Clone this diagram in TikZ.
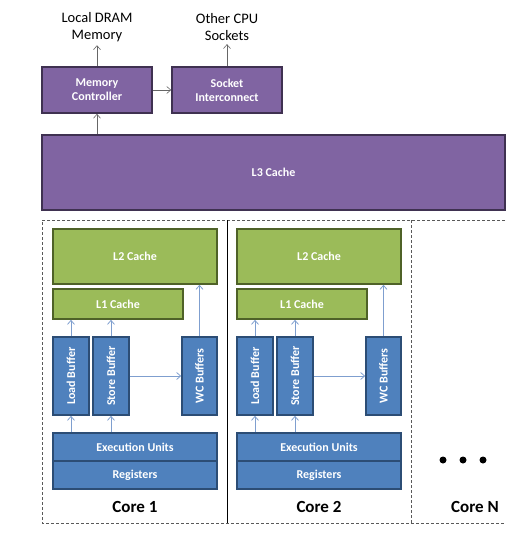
\documentclass[tikz,border=0pt]{standalone}
\usepackage{fontspec}
\setmainfont{Carlito}
\setsansfont{Carlito}
\usetikzlibrary{arrows.meta}

\definecolor{purplefill}{HTML}{8064A2}
\definecolor{purpleline}{HTML}{3F3151}
\definecolor{greenfill}{HTML}{9BBB59}
\definecolor{greenline}{HTML}{4F6228}
\definecolor{bluefill}{HTML}{4F81BD}
\definecolor{blueline}{HTML}{2C4D75}
\definecolor{bluearrow}{HTML}{7F9FCF}

\tikzset{
  unit/.style={draw, line width=1.6pt, text=white, font=\fontsize{12}{14}\selectfont\bfseries,
    inner sep=0pt, align=center},
  purpleunit/.style={unit, fill=purplefill, draw=purpleline},
  greenunit/.style={unit, fill=greenfill, draw=greenline},
  blueunit/.style={unit, fill=bluefill, draw=blueline},
  grayarrow/.style={->, gray!80!black, line width=0.6pt},
  bluearr/.style={->, bluearrow, line width=0.8pt},
  toplabel/.style={align=center, font=\fontsize{14.5}{17}\selectfont},
  corelabel/.style={font=\fontsize{17}{20}\selectfont\bfseries},
}

\begin{document}
\begin{tikzpicture}[x=1pt,y=-1pt,>={Straight Barb[length=4pt,width=7pt]}]
        \useasboundingbox (0,0) rectangle (520,537);

        % memory side
        \node[toplabel] (dram) at (97,27) {Local DRAM\\Memory};
        \node[toplabel] (cpus) at (227,27) {Other CPU\\Sockets};
        \node[purpleunit,minimum width=110pt,minimum height=46pt] (mc) at (97,90) {Memory\\Controller};
        \node[purpleunit,minimum width=110pt,minimum height=46pt] (si) at (227,90) {Socket\\Interconnect};
        \node[purpleunit,minimum width=463pt,minimum height=75pt] (l3) at (273.5,172.5) {L3 Cache};

        \draw[grayarrow] (mc.north) -- (mc.north |- dram.south);
        \draw[grayarrow] (si.north) -- (si.north |- cpus.south);
        \draw[grayarrow] (mc) -- (si);
        \draw[grayarrow] (mc.south |- l3.north) -- (mc.south);

        % core frame
        \draw[densely dashed, gray!70!black, line width=0.6pt] (505,220) -- (42,220) -- (42,523) -- (505,523);
        \draw[line width=0.6pt] (227,220) -- (227,523);
        \draw[densely dashed, gray!70!black, line width=0.6pt] (411,220) -- (411,523);

        \foreach \i/\o in {1/0,2/184} {
                % caches
                \node[greenunit,minimum width=164pt,minimum height=55pt] (l2\i) at (135+\o,256.5) {L2 Cache};
                \node[greenunit,minimum width=130pt,minimum height=30pt] (l1\i) at (118+\o,304) {L1 Cache};
                % buffers
                \node[blueunit,minimum width=78pt,minimum height=36pt,rotate=90] (lb\i) at (71+\o,376) {Load Buffer};
                \node[blueunit,minimum width=78pt,minimum height=36pt,rotate=90] (sb\i) at (111+\o,376) {Store Buffer};
                \node[blueunit,minimum width=78pt,minimum height=35pt,rotate=90] (wc\i) at (199.5+\o,376) {WC Buffers};
                % execution
                \node[blueunit,minimum width=164pt,minimum height=28pt] (eu\i) at (135+\o,447) {Execution Units};
                \node[blueunit,minimum width=164pt,minimum height=28pt] (rg\i) at (135+\o,475) {Registers};
                \node[corelabel] (core\i) at (135+\o,507) {Core \i};

                \draw[bluearr] (lb\i.east) -- (lb\i.east |- l1\i.south);
                \draw[bluearr] (sb\i.east) -- (sb\i.east |- l1\i.south);
                \draw[bluearr] (wc\i.east) -- (wc\i.east |- l2\i.south);
                \draw[bluearr] (sb\i) -- (wc\i);
                \draw[bluearr] (lb\i.west |- eu\i.north) -- (lb\i.west);
                \draw[bluearr] (sb\i.west |- eu\i.north) -- (sb\i.west);
        }

        % the remaining cores
        \node[corelabel] (coren) at (475,507) {Core N};
        \foreach \x in {443,463,483}
                \fill (\x,460) circle(3.5pt);
\end{tikzpicture}
\end{document}
